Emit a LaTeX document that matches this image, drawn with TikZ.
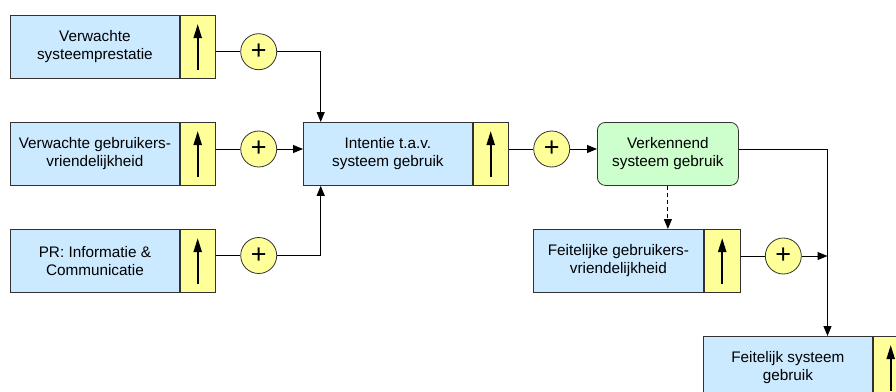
\documentclass[tikz,border=0pt]{standalone}
\usepackage{fontspec}
\setmainfont{Liberation Sans}
\usetikzlibrary{arrows.meta}
\definecolor{boxblue}{RGB}{204,234,255}
\definecolor{boxyellow}{RGB}{255,255,153}
\definecolor{boxgreen}{RGB}{204,255,204}
\definecolor{edge}{RGB}{50,50,50}
\newcommand{\lbl}{\fontsize{15.3}{18}\selectfont}
\tikzset{
  blk/.style={draw=edge, line width=0.8pt, fill=boxblue, minimum width=169pt,
    minimum height=63pt, anchor=north west, align=center, inner sep=0pt, font=\lbl},
  gauge/.style={draw=edge, line width=0.8pt, fill=boxyellow, minimum width=35pt,
    minimum height=63pt, anchor=north west, inner sep=0pt},
  trial/.style={draw=edge, line width=0.8pt, fill=boxgreen, rounded corners=8pt,
    minimum width=141pt, minimum height=63pt, anchor=north west, align=center,
    inner sep=0pt, font=\lbl},
  adder/.style={circle, draw=edge, line width=0.8pt, fill=boxyellow,
    minimum size=36pt, inner sep=0pt, font=\fontsize{27}{27}\selectfont},
  wire/.style={line width=1pt},
  flow/.style={wire, -{Triangle[length=10pt,width=8pt]}},
  rise/.style={line width=2pt, -{Triangle[length=14pt,width=8pt]}}
}
\begin{document}
\begin{tikzpicture}[x=1pt,y=-1pt]
\useasboundingbox (0,0) rectangle (896,391);
\clip (0,0) rectangle (896,391);

% input factors
\node[blk] (b1) at (10,15) {Verwachte\\systeemprestatie};
\node[gauge] (y1) at (b1.north east) {};
\node[blk] (b2) at (10,122) {Verwachte gebruikers-\\vriendelijkheid};
\node[gauge] (y2) at (b2.north east) {};
\node[blk] (b3) at (10,229) {PR: Informatie \&\\Communicatie};
\node[gauge] (y3) at (b3.north east) {};

% intention
\node[blk] (bi) at (303,122) {Intentie t.a.v.\\systeem gebruik};
\node[gauge] (yi) at (bi.north east) {};

% exploratory use
\node[trial] (vk) at (597,122) {Verkennend\\systeem gebruik};

% actual usability
\node[blk, minimum width=170pt] (bf) at (533,229) {Feitelijke gebruikers-\\vriendelijkheid};
\node[gauge, minimum width=36pt] (yf) at (bf.north east) {};

% actual use
\node[blk] (bz) at (703,336) {Feitelijk systeem\\gebruik};
\node[gauge] (yz) at (bz.north east) {};

% level arrows
\foreach \g in {y1,y2,y3,yi,yf,yz}
  \draw[rise] ([yshift=9pt]\g.south) -- ([yshift=-9pt]\g.north);

% summing points
\node[adder] (c1) at (258.7,51.7) {+};
\node[adder] (c2) at (258.7,149) {+};
\node[adder] (c3) at (258.7,255.5) {+};
\node[adder] (ci) at (551.7,149) {+};
\node[adder] (cf) at (783.3,256) {+};

% bends
\coordinate (j1) at (320.7,51.7);
\coordinate (j3) at (320.7,255.5);
\coordinate (j4) at (827.5,149);
\coordinate (j5) at (827.5,256);

% connections
\draw[wire] (c1 -| y1.east) -- (c1);
\draw[flow] (c1) -- (j1) -- (j1 |- bi.north);
\draw[wire] (c2 -| y2.east) -- (c2);
\draw[flow] (c2) -- (c2 -| bi.west);
\draw[wire] (c3 -| y3.east) -- (c3);
\draw[flow] (c3) -- (j3) -- (j3 |- bi.south);
\draw[wire] (ci -| yi.east) -- (ci);
\draw[flow] (ci) -- (ci -| vk.west);
\draw[flow] (vk.east |- j4) -- (j4) -- (j4 |- bz.north);
\draw[flow, dash pattern=on 4pt off 3pt] (vk.south) -- (vk.south |- bf.north);
\draw[wire] (cf -| yf.east) -- (cf);
\draw[flow] (cf) -- (j5);
\end{tikzpicture}
\end{document}
